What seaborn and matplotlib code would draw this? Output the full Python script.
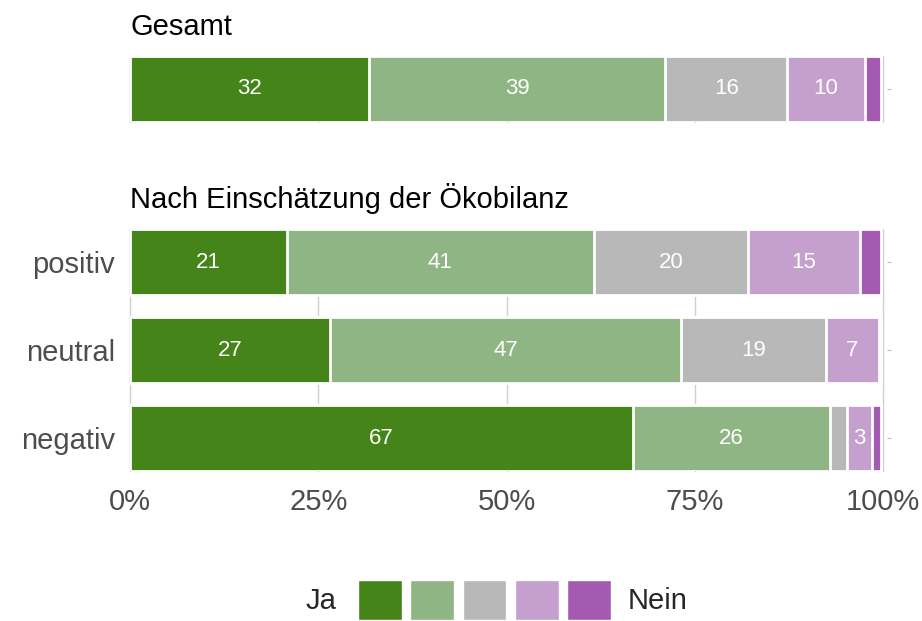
import numpy as np
import matplotlib
matplotlib.use('Agg')
import matplotlib.pyplot as plt
import pandas as pd
import seaborn as sns

# answer levels from "Ja" to "Nein"
levels = ['Ja', 'eher ja', 'teils', 'eher nein', 'Nein']
colors = ['#458419', '#8fb585', '#b8b8b8', '#c59fcd', '#a45ab0']

categories = ['positiv', 'neutral', 'negativ']
gesamt = [31.8, 39.3, 16.2, 10.3, 2.2]
positiv = [20.8, 40.8, 20.5, 14.8, 2.9]
neutral = [26.6, 46.6, 19.2, 7.1, 0.3]
negativ = [66.8, 26.1, 2.3, 3.4, 1.2]

xticks = [0, 25, 50, 75, 100]
xticklabels = ['0%', '25%', '50%', '75%', '100%']

sns.set_style('white')
plt.rcParams['font.family'] = ['Liberation Sans', 'DejaVu Sans']


def make_long(rows, names):
    recs = []
    for name, vals in zip(names, rows):
        cum = np.cumsum(vals)
        for lvl, v, c in zip(levels, vals, cum):
            recs.append({'group': name, 'level': lvl, 'value': v, 'cum': c})
    return pd.DataFrame(recs)


def stacked(ax, df, order):
    # draw cumulative bars back to front, white edges make the gaps
    for lvl, col in reversed(list(zip(levels, colors))):
        sub = df[df['level'] == lvl]
        sns.barplot(data=sub, x='cum', y='group', order=order, color=col,
                    saturation=1, width=0.75, edgecolor='white', linewidth=2,
                    errorbar=None, ax=ax, zorder=2)
    for _, r in df.iterrows():
        if r['value'] >= 3:
            ax.text(r['cum'] - r['value'] / 2, order.index(r['group']),
                    f"{r['value']:.0f}", color='white', fontsize=16,
                    ha='center', va='center', zorder=3)
    ax.set_xlim(0, 100)
    ax.set_xlabel('')
    ax.set_ylabel('')
    ax.set_xticks(xticks)
    ax.grid(axis='x', color='#d0d0d0', linewidth=1.0)
    for gl in ax.get_xgridlines():
        gl.set_clip_on(False)
    ax.set_axisbelow(True)
    for s in ax.spines.values():
        s.set_visible(False)
    ax.spines['right'].set_position(('outward', 3))
    ax.tick_params(axis='y', left=False, right=True, labelleft=True,
                   labelright=False, length=3, width=0.8, color='#bbbbbb',
                   pad=8, labelsize=21, labelcolor='#4d4d4d')


W, H = 922, 621
fig = plt.figure(figsize=(W / 100, H / 100), dpi=100)

ax_top = fig.add_axes([130 / W, (H - 122) / H, 753 / W, 66 / H])
stacked(ax_top, make_long([gesamt], ['Gesamt']), ['Gesamt'])
ax_top.set_ylim(0.375, -0.375)
ax_top.set_yticklabels([''])
ax_top.tick_params(axis='x', bottom=False, labelbottom=False)
ax_top.set_title('Gesamt', loc='left', fontsize=21, pad=15, color='black')

ax_bot = fig.add_axes([130 / W, (H - 471) / H, 753 / W, 242 / H])
stacked(ax_bot, make_long([positiv, neutral, negativ], categories), categories)
ax_bot.set_ylim(2.375, -0.375)
ax_bot.set_xticklabels(xticklabels)
ax_bot.tick_params(axis='x', bottom=False, length=0, pad=12, labelsize=21,
                   labelcolor='#4d4d4d')
ax_bot.set_title('Nach Einschätzung der Ökobilanz', loc='left', fontsize=21,
                 pad=15, color='black')

# legend: Ja [five colour keys] Nein
ax_leg = fig.add_axes([354 / W, 1 / H, 261 / W, 40 / H])
ax_leg.bar(range(len(levels)), [1] * len(levels), width=0.84, color=colors)
ax_leg.set_xlim(-0.5, len(levels) - 0.5)
ax_leg.set_ylim(0, 1)
ax_leg.axis('off')
fig.text(336 / W, (H - 601) / H, 'Ja', ha='right', va='center', fontsize=21)
fig.text(628 / W, (H - 601) / H, 'Nein', ha='left', va='center', fontsize=21)

fig.savefig('out.png', dpi=100)
